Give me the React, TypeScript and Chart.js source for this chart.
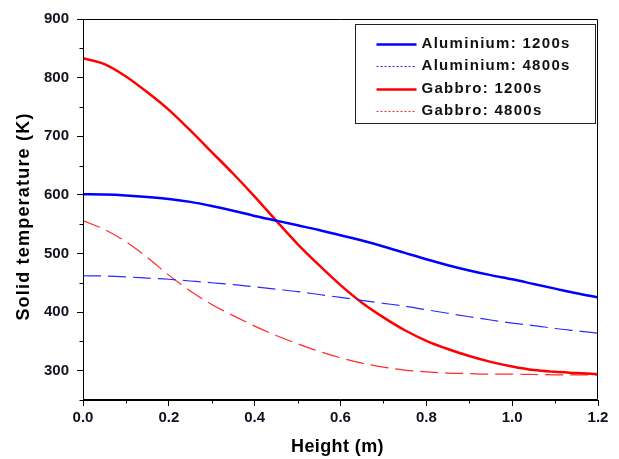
import React, { useEffect, useRef } from "react";
import { Chart, registerables } from "chart.js";

Chart.register(...registerables);

const heights = [0, 0.05, 0.1, 0.15, 0.2, 0.25, 0.3, 0.35, 0.4, 0.45, 0.5, 0.55, 0.6, 0.65, 0.7, 0.75, 0.8, 0.85, 0.9, 0.95, 1.0, 1.05, 1.1, 1.15, 1.2];
const aluminium1200 = [601, 600.5, 599, 596.5, 593, 588, 581, 573, 564, 556, 548, 540, 531, 522, 512, 501, 490, 480, 471, 463, 456, 448, 440, 432, 425];
const aluminium4800 = [462, 461.5, 460, 458, 456, 453, 450, 447, 443, 439, 435, 430, 425, 420, 415, 410, 404, 398, 392, 386.5, 381, 377, 372, 368, 364];
const gabbro1200 = [833, 823, 802, 775, 745, 710, 673, 636, 597, 556, 516, 480, 446, 416, 391, 369, 351, 337, 325, 315, 307, 301, 298, 296, 294];
const gabbro4800 = [556, 541, 520, 493, 463, 436, 413, 394, 376, 360, 346, 333, 322, 313, 306, 301, 298, 296, 295, 294, 294, 293.5, 293, 293, 293];

const seriesLabels = ["Aluminium: 1200s", "Aluminium: 4800s", "Gabbro: 1200s", "Gabbro: 4800s"];
const xTicks = [0, 0.2, 0.4, 0.6, 0.8, 1.0, 1.2];
const xMinorTicks = [0.1, 0.3, 0.5, 0.7, 0.9, 1.1];
const yTicks = [300, 400, 500, 600, 700, 800, 900];
const yMinorTicks = [250, 350, 450, 550, 650, 750, 850];
const xTitle = "Height (m)";
const yTitle = "Solid temperature (K)";

const FONT = "'Liberation Sans', Arial, sans-serif";

const toPoints = (ys: number[]) => ys.map((y, i) => ({ x: heights[i], y }));

const framePlugin = {
  id: "frameAndLegend",
  afterDraw(chart: any) {
    const { ctx, chartArea, scales } = chart;
    const { left, right, top, bottom } = chartArea;
    ctx.save();
    ctx.strokeStyle = "#000";
    ctx.lineWidth = 1;
    ctx.setLineDash([]);
    const L = Math.round(left) + 0.5;
    const R = Math.round(right) - 0.5;
    const T = Math.round(top) + 0.5;
    const B = Math.round(bottom) - 0.5;
    ctx.beginPath();
    ctx.moveTo(L, T);
    ctx.lineTo(R, T);
    ctx.lineTo(R, B);
    ctx.lineTo(L, B);
    ctx.closePath();
    ctx.stroke();
    ctx.beginPath();
    xMinorTicks.forEach((v) => {
      const px = Math.round(scales.x.getPixelForValue(v)) + 0.5;
      ctx.moveTo(px, B);
      ctx.lineTo(px, B + 4);
    });
    yMinorTicks.forEach((v) => {
      const py = Math.round(scales.y.getPixelForValue(v)) + 0.5;
      ctx.moveTo(L, py);
      ctx.lineTo(L - 4, py);
    });
    ctx.stroke();

    ctx.fillStyle = "#000";
    ctx.font = `bold 18px ${FONT}`;
    (ctx as any).letterSpacing = "0.4px";
    ctx.textAlign = "center";
    ctx.textBaseline = "middle";
    ctx.fillText(xTitle, (left + right) / 2 - 3, bottom + 47);
    ctx.save();
    ctx.translate(24, (top + bottom) / 2 + 7);
    ctx.rotate(-Math.PI / 2);
    (ctx as any).letterSpacing = "1.2px";
    ctx.fillText(yTitle, 0, 0);
    ctx.restore();

    const boxL = Math.round(right) - 243 + 0.5;
    const boxT = Math.round(top) + 5 + 0.5;
    const boxW = 240;
    const boxH = 99;
    ctx.fillStyle = "#fff";
    ctx.fillRect(boxL, boxT, boxW, boxH);
    ctx.strokeStyle = "#222";
    ctx.lineWidth = 1;
    ctx.strokeRect(boxL, boxT, boxW, boxH);
    const rows = [top + 24.5, top + 47, top + 69.5, top + 92];
    const sampleL = boxL + 21;
    const sampleR = boxL + 61;
    chart.data.datasets.forEach((ds: any, i: number) => {
      const y = Math.round(rows[i]) + 0.5;
      ctx.beginPath();
      ctx.strokeStyle = ds.borderColor;
      if (ds.borderDash && ds.borderDash.length) {
        ctx.lineWidth = 1;
        ctx.setLineDash([2, 2]);
      } else {
        ctx.lineWidth = 2.5;
        ctx.setLineDash([]);
      }
      ctx.moveTo(sampleL, y);
      ctx.lineTo(sampleR, y);
      ctx.stroke();
      ctx.setLineDash([]);
      ctx.fillStyle = "#111";
      ctx.font = `bold 15px ${FONT}`;
      (ctx as any).letterSpacing = "1.3px";
      ctx.textAlign = "left";
      ctx.textBaseline = "middle";
      ctx.fillText(ds.label, sampleR + 5, rows[i]);
    });
    (ctx as any).letterSpacing = "0px";
    ctx.restore();
  },
};

export default function App() {
  const canvasRef = useRef<HTMLCanvasElement | null>(null);

  useEffect(() => {
    if (!canvasRef.current) return;
    const chart = new Chart(canvasRef.current, {
      type: "line",
      data: {
        datasets: [
          {
            label: seriesLabels[0],
            data: toPoints(aluminium1200),
            borderColor: "#0000ff",
            borderWidth: 2.5,
            pointRadius: 0,
            cubicInterpolationMode: "monotone",
          },
          {
            label: seriesLabels[1],
            data: toPoints(aluminium4800),
            borderColor: "#2a2aff",
            borderWidth: 1.2,
            borderDash: [18, 7],
            pointRadius: 0,
            cubicInterpolationMode: "monotone",
          },
          {
            label: seriesLabels[2],
            data: toPoints(gabbro1200),
            borderColor: "#ff0000",
            borderWidth: 2.5,
            pointRadius: 0,
            cubicInterpolationMode: "monotone",
          },
          {
            label: seriesLabels[3],
            data: toPoints(gabbro4800),
            borderColor: "#ff2a2a",
            borderWidth: 1.2,
            borderDash: [18, 7],
            pointRadius: 0,
            cubicInterpolationMode: "monotone",
          },
        ],
      },
      options: {
        responsive: false,
        animation: false,
        layout: { padding: { left: 0, right: 21, top: 19, bottom: 0 } },
        plugins: {
          legend: { display: false },
          tooltip: { enabled: false },
        },
        scales: {
          x: {
            type: "linear",
            min: 0,
            max: 1.2,
            afterBuildTicks: (scale: any) => {
              scale.ticks = xTicks.map((v) => ({ value: v }));
            },
            afterFit: (scale: any) => {
              scale.height = 59;
            },
            grid: {
              drawOnChartArea: false,
              drawTicks: true,
              tickLength: 6,
              tickColor: "#000",
              color: "#000",
            },
            border: { display: true, color: "#000", width: 1 },
            ticks: {
              color: "#111122",
              font: { family: FONT, size: 15, weight: "bold" },
              padding: 3,
              maxRotation: 0,
              autoSkip: false,
              callback: (v: any) => Number(v).toFixed(1),
            },
          },
          y: {
            type: "linear",
            min: 250,
            max: 900,
            afterBuildTicks: (scale: any) => {
              scale.ticks = yTicks.map((v) => ({ value: v }));
            },
            afterFit: (scale: any) => {
              scale.width = 83;
            },
            grid: {
              drawOnChartArea: false,
              drawTicks: true,
              tickLength: 6,
              tickColor: "#000",
              color: "#000",
            },
            border: { display: true, color: "#000", width: 1 },
            ticks: {
              color: "#111122",
              font: { family: FONT, size: 15, weight: "bold" },
              padding: 8,
              autoSkip: false,
              callback: (v: any) => String(v),
            },
          },
        },
      },
      plugins: [framePlugin],
    } as any);
    return () => chart.destroy();
  }, []);

  return (
    <div style={{ position: "fixed", left: 0, top: 0, width: 619, height: 459, background: "#fff" }}>
      <canvas ref={canvasRef} width={619} height={459} style={{ display: "block" }} />
    </div>
  );
}
